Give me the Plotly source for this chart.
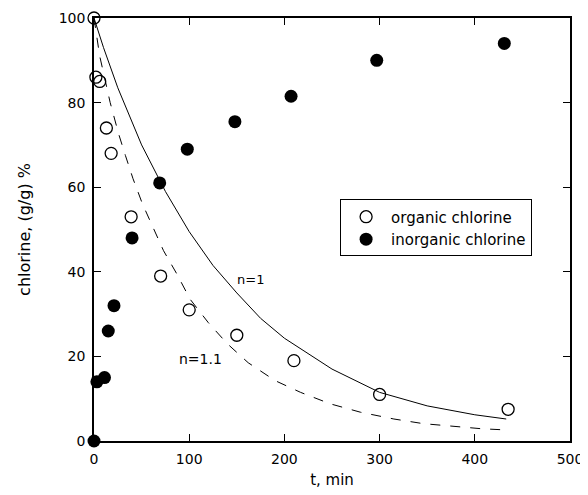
import plotly.graph_objects as go

org_t = [0, 2, 6, 13, 18, 39, 70, 100, 150, 210, 300, 435]
org_c = [100, 86, 85, 74, 68, 53, 39, 31, 25, 19, 11, 7.5]

inorg_t = [0, 3, 11, 15, 21, 40, 69, 98, 148, 207, 297, 431]
inorg_c = [0, 14, 15, 26, 32, 48, 61, 69, 75.5, 81.5, 90, 94]

# Model curves
n1_t = [0, 10, 25, 50, 75, 100, 125, 150, 175, 200, 250, 300, 350, 400, 433]
n1_c = [100, 93, 83.5, 70, 59, 49.5, 41.5, 35, 29, 24.3, 17, 11.5, 8.3, 6.2, 5.2]

n11_t = [0, 6, 17, 26, 33, 41, 51, 63, 73, 87, 101, 120, 140, 162, 190, 217, 248, 280, 315, 346, 378, 407, 434]
n11_c = [100, 91, 80, 72.5, 67.5, 62, 56, 50, 45, 39.5, 33.5, 28, 23, 18.5, 14.3, 11.5, 8.8, 6.8, 5.2, 4.1, 3.4, 2.9, 2.6]

x_ticks = [0, 100, 200, 300, 400, 500]
y_ticks = [0, 20, 40, 60, 80, 100]

FONT = "DejaVu Sans"

fig = go.Figure()
fig.add_trace(go.Scatter(x=n1_t, y=n1_c, mode="lines", showlegend=False,
                         line=dict(color="black", width=1), hoverinfo="skip"))
fig.add_trace(go.Scatter(x=n11_t, y=n11_c, mode="lines", showlegend=False,
                         line=dict(color="black", width=1, dash="10px,10px"), hoverinfo="skip"))
fig.add_trace(go.Scatter(x=org_t, y=org_c, mode="markers", name="organic chlorine",
                         cliponaxis=False,
                         marker=dict(symbol="circle-open", size=12, color="black",
                                     line=dict(color="black", width=1.3))))
fig.add_trace(go.Scatter(x=inorg_t, y=inorg_c, mode="markers", name="inorganic chlorine",
                         cliponaxis=False,
                         marker=dict(symbol="circle", size=13, color="black")))

fig.add_annotation(x=164, y=38.2, text="n=1", showarrow=False,
                   font=dict(family=FONT, size=13, color="black"))
fig.add_annotation(x=112, y=19.5, text="n=1.1", showarrow=False,
                   font=dict(family=FONT, size=14, color="black"))

axis_common = dict(showgrid=False, zeroline=False, showline=True, linecolor="black",
                   linewidth=1.5, mirror="ticks", ticks="inside", ticklen=7,
                   tickcolor="black", tickwidth=1.2,
                   tickfont=dict(family=FONT, size=14, color="black"))

fig.update_xaxes(range=[0, 500], tickvals=x_ticks, ticklabelstandoff=4,
                 title=dict(text="t, min", font=dict(family=FONT, size=15, color="black"),
                            standoff=9),
                 **axis_common)
fig.update_yaxes(range=[0, 100], tickvals=y_ticks, ticklabelstandoff=4,
                 title=dict(text="chlorine, (g/g) %", font=dict(family=FONT, size=16, color="black"),
                            standoff=24),
                 **axis_common)

fig.update_layout(
    width=580, height=487,
    margin=dict(l=86, r=18, t=10, b=54, autoexpand=False),
    plot_bgcolor="white", paper_bgcolor="white",
    font=dict(family=FONT, color="black"),
    legend=dict(x=0.517, y=0.571, xanchor="left", yanchor="top",
                bordercolor="black", borderwidth=1, bgcolor="white",
                font=dict(family=FONT, size=15, color="black"),
                tracegroupgap=0, itemwidth=40),
)

fig.write_html("out.html")
